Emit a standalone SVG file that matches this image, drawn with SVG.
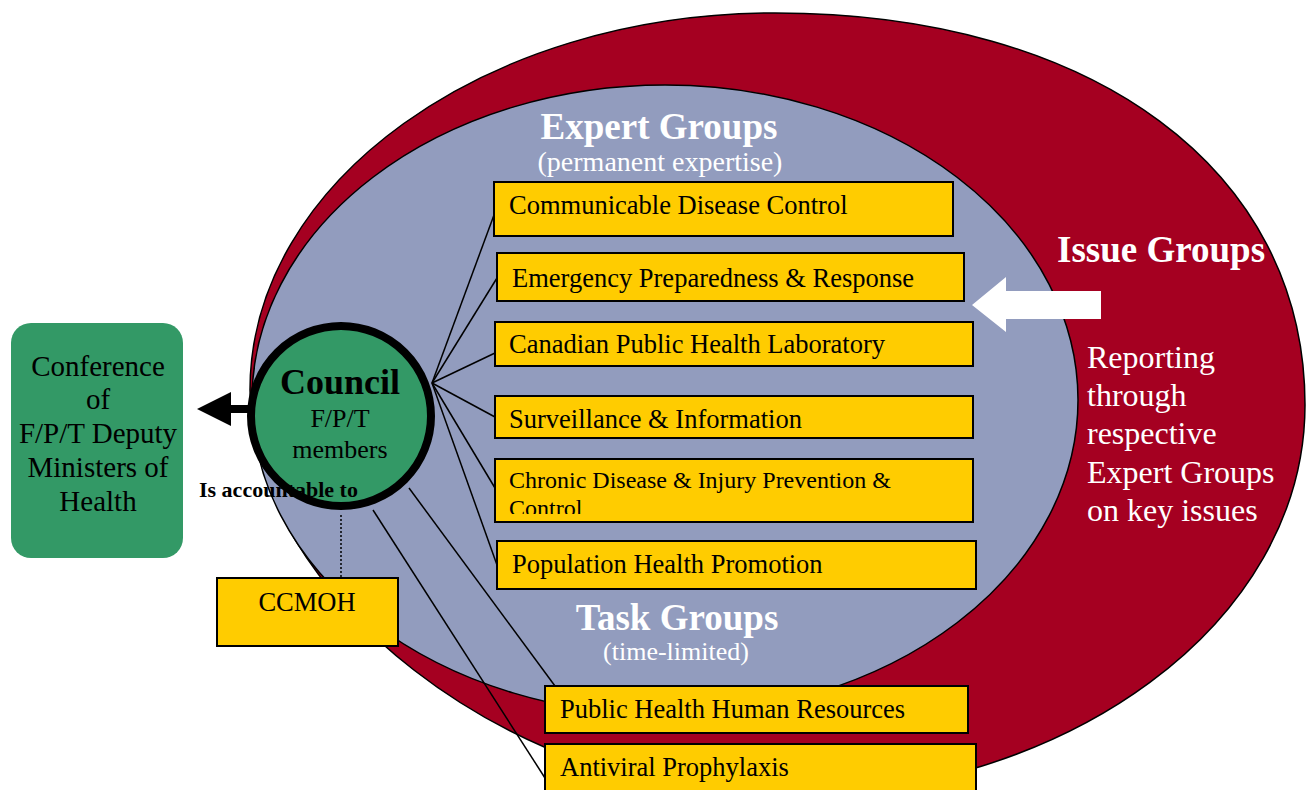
<svg xmlns="http://www.w3.org/2000/svg" width="1309" height="790" viewBox="0 0 1309 790">
<style>
text{font-family:"Liberation Serif","Times New Roman",serif;}
.box{fill:#FFCC00;stroke:#000;stroke-width:2;}
.bt{font-size:26.5px;fill:#000;}
.wt{fill:#fff;}
.conn{stroke:#000;stroke-width:1.5;fill:none;}
</style>
<defs>
<clipPath id="chronicClip"><rect x="495" y="459" width="478" height="55"/></clipPath>
</defs>
<rect width="1309" height="790" fill="#fff"/>
<g id="issue-groups">
<path d="M775,13 C1093,13 1305,170 1305,405 C1305,622 1068,797 775,797 C512,797 250,594 250,390 C250,182 485,13 775,13 Z" fill="#A50021" stroke="#000" stroke-width="1.5"/>
<text x="1057" y="262" class="wt" font-size="37" font-weight="bold">Issue Groups</text>
<text class="wt" font-size="32"><tspan x="1087" y="368">Reporting</tspan><tspan x="1087" y="406">through</tspan><tspan x="1087" y="444">respective</tspan><tspan x="1087" y="483">Expert Groups</tspan><tspan x="1087" y="521">on key issues</tspan></text>
</g>
<g id="expert-task-groups">
<ellipse cx="665" cy="400" rx="413" ry="315" fill="#929CBE" stroke="#000" stroke-width="1.5"/>
<text x="659" y="139" class="wt" font-size="37" font-weight="bold" text-anchor="middle">Expert Groups</text>
<text x="660" y="171" class="wt" font-size="28" text-anchor="middle">(permanent expertise)</text>
<text x="677" y="630" class="wt" font-size="37" font-weight="bold" text-anchor="middle">Task Groups</text>
<text x="676" y="660" class="wt" font-size="26" text-anchor="middle">(time-limited)</text>
</g>
<g id="connectors">
<polygon points="972,305 1006,277 1006,291 1101,291 1101,319 1006,319 1006,332" fill="#fff"/>
<line class="conn" x1="432" y1="383" x2="494" y2="215"/>
<line class="conn" x1="432" y1="383" x2="497" y2="278"/>
<line class="conn" x1="432" y1="383" x2="495" y2="353"/>
<line class="conn" x1="432" y1="383" x2="495" y2="417"/>
<line class="conn" x1="432" y1="383" x2="495" y2="488"/>
<line class="conn" x1="432" y1="383" x2="497" y2="565"/>
<line class="conn" x1="409" y1="488" x2="555" y2="686"/>
<line class="conn" x1="373" y1="510" x2="545" y2="778"/>
<line x1="341" y1="515" x2="341" y2="578" stroke="#000" stroke-width="1.5" stroke-dasharray="2,2"/>
<rect x="230" y="405" width="29" height="8" fill="#000"/>
<polygon points="197,409 231,392 231,426" fill="#000"/>
</g>
<g id="conference">
<rect x="11" y="323" width="172" height="235" rx="20" ry="20" fill="#339966"/>
<text font-size="29" text-anchor="middle" fill="#000"><tspan x="98" y="376">Conference</tspan><tspan x="98" y="409">of</tspan><tspan x="98" y="443">F/P/T Deputy</tspan><tspan x="98" y="477">Ministers of</tspan><tspan x="98" y="511">Health</tspan></text>
</g>
<g id="council">
<circle cx="341" cy="416" r="90" fill="#339966" stroke="#000" stroke-width="8"/>
<text x="340" y="394" font-size="36" font-weight="bold" text-anchor="middle">Council</text>
<text x="340" y="427" font-size="26" text-anchor="middle">F/P/T</text>
<text x="340" y="458" font-size="26" text-anchor="middle">members</text>
</g>
<g id="ccmoh">
<rect class="box" x="217" y="578" width="181" height="68"/>
<text x="307" y="611" class="bt" text-anchor="middle">CCMOH</text>
</g>
<g id="communicable">
<rect class="box" x="494" y="182" width="459" height="54"/>
<text x="509" y="214" class="bt">Communicable Disease Control</text>
</g>
<g id="emergency">
<rect class="box" x="497" y="253" width="467" height="48"/>
<text x="512" y="287" class="bt">Emergency Preparedness &amp; Response</text>
</g>
<g id="laboratory">
<rect class="box" x="495" y="322" width="478" height="44"/>
<text x="509" y="353" class="bt">Canadian Public Health Laboratory</text>
</g>
<g id="surveillance">
<rect class="box" x="495" y="396" width="478" height="42"/>
<text x="509" y="428" class="bt">Surveillance &amp; Information</text>
</g>
<g id="chronic">
<rect class="box" x="495" y="459" width="478" height="63"/>
<text font-size="24" clip-path="url(#chronicClip)"><tspan x="509" y="488">Chronic Disease &amp; Injury Prevention &amp;</tspan><tspan x="509" y="516">Control</tspan></text>
</g>
<g id="population">
<rect class="box" x="497" y="541" width="479" height="48"/>
<text x="512" y="573" class="bt">Population Health Promotion</text>
</g>
<g id="hr">
<rect class="box" x="545" y="686" width="423" height="47"/>
<text x="560" y="718" class="bt">Public Health Human Resources</text>
</g>
<g id="antiviral">
<rect class="box" x="545" y="744" width="431" height="56"/>
<text x="560" y="776" class="bt">Antiviral Prophylaxis</text>
</g>
<text x="199" y="497" font-size="22" font-weight="bold">Is accountable to</text>
</svg>
